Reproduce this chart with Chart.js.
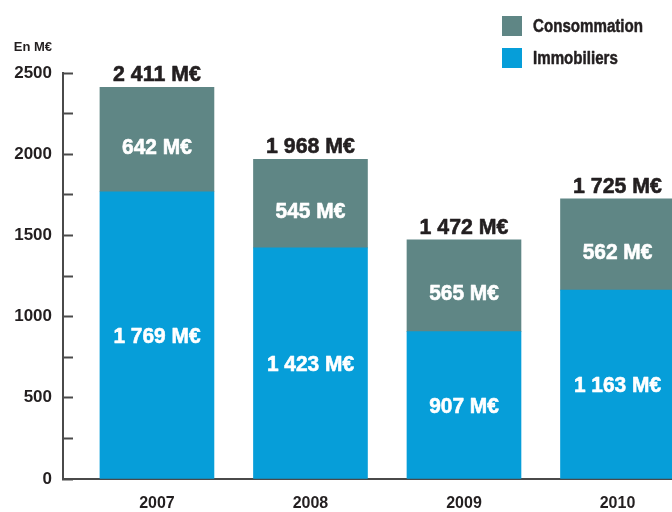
<!DOCTYPE html>
<html>
<head>
<meta charset="utf-8">
<script src="https://cdn.jsdelivr.net/npm/chart.js@4/dist/chart.umd.min.js"></script>
<style>
  html, body { margin: 0; padding: 0; background: #ffffff; }
  #wrap { width: 672px; height: 512px; position: relative; }
</style>
</head>
<body>
<div id="wrap"><canvas id="c" width="672" height="512"></canvas></div>
<script>
const years = [2007, 2008, 2009, 2010];
const immobiliers = [1769, 1423, 907, 1163];
const consommation = [642, 545, 565, 562];
const totals = [2411, 1968, 1472, 1725];
const yTicks = [0, 500, 1000, 1500, 2000, 2500];
const unitLabel = 'En M€';
const seriesNames = ['Immobiliers', 'Consommation'];

const TEXT = '#231f20';
const BLUE = '#069ed9';
const TEAL = '#5f8685';
const AXIS = '#4a4a4a';
const FONT = "'Liberation Sans', Arial, sans-serif";

function fmt(n) {
  return String(n).replace(/\B(?=(\d{3})+(?!\d))/g, ' ') + ' M€';
}

function heavyText(ctx, text, x, y, sx, stroke) {
  ctx.save();
  ctx.translate(x, y);
  ctx.scale(sx, 1);
  ctx.fillText(text, 0, 0);
  if (stroke) {
    ctx.lineWidth = stroke;
    ctx.strokeStyle = ctx.fillStyle;
    ctx.lineJoin = 'round';
    ctx.strokeText(text, 0, 0);
  }
  ctx.restore();
}

const labelsPlugin = {
  id: 'labelsPlugin',
  afterDatasetsDraw(chart) {
    const ctx = chart.ctx;
    const yScale = chart.scales.y;
    ctx.save();
    ctx.textAlign = 'center';
    chart.data.datasets.forEach((ds, di) => {
      const meta = chart.getDatasetMeta(di);
      meta.data.forEach((el, i) => {
        const v = ds.data[i].y;
        const cy = (el.y + el.base) / 2 + (di === 1 ? 8 : 2);
        ctx.font = 'bold 22px ' + FONT;
        ctx.fillStyle = '#ffffff';
        ctx.textBaseline = 'middle';
        heavyText(ctx, fmt(v), el.x, cy, 0.95, 0.6);
      });
    });
    const meta0 = chart.getDatasetMeta(0);
    meta0.data.forEach((el, i) => {
      const y = yScale.getPixelForValue(totals[i]);
      ctx.font = 'bold 22px ' + FONT;
      ctx.fillStyle = TEXT;
      ctx.textBaseline = 'alphabetic';
      heavyText(ctx, fmt(totals[i]), el.x, y - 6, 0.97, 0.6);
    });
    ctx.font = 'bold 13px ' + FONT;
    ctx.textAlign = 'right';
    ctx.textBaseline = 'middle';
    ctx.fillStyle = TEXT;
    ctx.fillText(unitLabel, 52, 47);
    const order = chart.data.datasets.map((d, i) => i).reverse();
    order.forEach((di, k) => {
      const ds = chart.data.datasets[di];
      const top = 16 + k * 32;
      ctx.fillStyle = ds.backgroundColor;
      ctx.fillRect(502, top, 20, 20);
      ctx.font = 'bold 18px ' + FONT;
      ctx.fillStyle = TEXT;
      ctx.textAlign = 'left';
      ctx.textBaseline = 'middle';
      heavyText(ctx, ds.label, 533, top + 11, 0.84, 0.5);
    });
    ctx.restore();
  }
};

new Chart(document.getElementById('c'), {
  type: 'bar',
  data: {
    datasets: [
      {
        label: seriesNames[0],
        data: years.map((yr, i) => ({ x: yr, y: immobiliers[i] })),
        backgroundColor: BLUE,
        barThickness: 114,
        borderWidth: 0
      },
      {
        label: seriesNames[1],
        data: years.map((yr, i) => ({ x: yr, y: consommation[i] })),
        backgroundColor: TEAL,
        barThickness: 114,
        borderWidth: 0
      }
    ]
  },
  options: {
    responsive: false,
    animation: false,
    events: [],
    layout: { padding: { top: 73, right: 0, left: 0, bottom: 0 } },
    plugins: { legend: { display: false }, tooltip: { enabled: false } },
    scales: {
      x: {
        type: 'linear',
        stacked: true,
        offset: false,
        bounds: 'ticks',
        min: 2006.388,
        max: 2010.355,
        afterFit(s) { s.height = 33; },
        afterBuildTicks(s) { s.ticks = years.map(v => ({ value: v })); },
        ticks: {
          callback: (v) => String(v),
          font: { family: FONT, weight: 'bold', size: 16 },
          color: TEXT,
          padding: 15,
          maxRotation: 0,
          autoSkip: false
        },
        grid: { display: false, drawTicks: false },
        border: { display: true, color: AXIS, width: 2 }
      },
      y: {
        stacked: true,
        min: 0,
        max: 2500,
        afterFit(s) { s.width = 63; },
        ticks: {
          stepSize: 250,
          callback: (v) => (yTicks.includes(v) ? String(v) : ''),
          font: { family: FONT, weight: 'bold', size: 17 },
          color: TEXT,
          padding: 21
        },
        grid: {
          display: true,
          drawOnChartArea: false,
          drawTicks: true,
          tickLength: -10,
          tickWidth: 2,
          tickColor: AXIS
        },
        border: { display: true, color: AXIS, width: 2 }
      }
    }
  },
  plugins: [labelsPlugin]
});
</script>
</body>
</html>
